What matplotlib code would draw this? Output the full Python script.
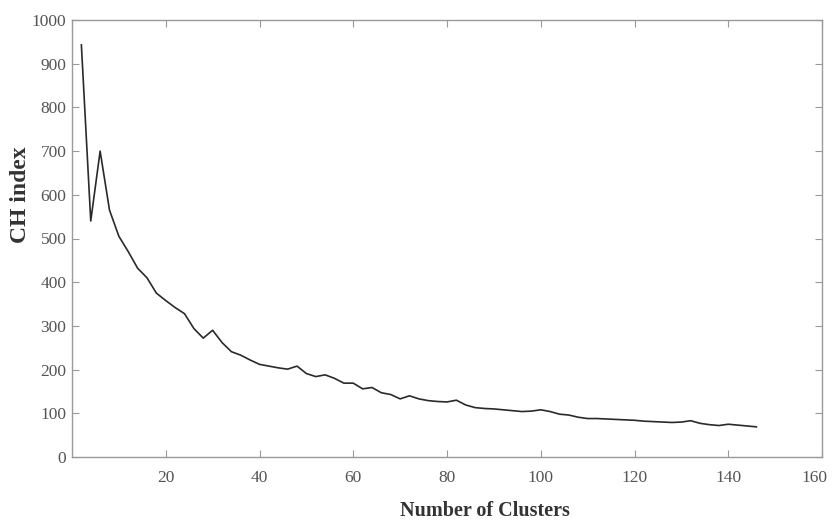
import matplotlib
matplotlib.use("Agg")
import matplotlib.pyplot as plt
import matplotlib.transforms as mtransforms

clusters = list(range(2, 148, 2))
ch_index = [943, 540, 700, 565, 505, 470, 432, 410, 375, 358,
            342, 328, 294, 272, 290, 262, 241, 233, 222, 212,
            208, 204, 201, 208, 191, 184, 188, 180, 169, 169,
            156, 159, 147, 143, 133, 140, 133, 129, 127, 126,
            130, 119, 113, 111, 110, 108, 106, 104, 105, 108,
            104, 98, 96, 91, 88, 88, 87, 86, 85, 84,
            82, 81, 80, 79, 80, 83, 77, 74, 72, 75,
            73, 71, 69]
x_ticks = [20, 40, 60, 80, 100, 120, 140, 160]
y_ticks = [0, 100, 200, 300, 400, 500, 600, 700, 800, 900, 1000]
x_label = "Number of Clusters"
y_label = "CH index"

plt.rcParams['font.family'] = ['Liberation Serif', 'DejaVu Serif']

fig = plt.figure(figsize=(8.32, 5.22), dpi=100)
ax = fig.add_axes([72/832, 65/522, 750/832, 437/522])
ax.plot(clusters, ch_index, color='#2a2a2a', linewidth=1.2)
ax.set_xlim(0, 160)
ax.set_ylim(0, 1000)
ax.set_xticks(x_ticks)
ax.set_yticks(y_ticks)
for s in ax.spines.values():
    s.set_color('#999999')
    s.set_linewidth(1.0)
ax.tick_params(direction='in', length=5, width=0.8, color='#999999',
               labelcolor='#555555', labelsize=12.5, top=True, right=True)
ax.tick_params(axis='x', pad=9)
ax.tick_params(axis='y', pad=4)
ax.set_xlabel(x_label, fontsize=14.5, fontweight='bold', color='#333333')
ax.set_ylabel(y_label, fontsize=17, fontweight='bold', color='#333333')
ax.xaxis.set_label_coords(0.55, -0.1)
ax.yaxis.set_label_coords(-0.054, 0.6)

last = ax.get_xticklabels()[-1]
last.set_transform(last.get_transform() +
                   mtransforms.ScaledTranslation(-8/100, 0, fig.dpi_scale_trans))
fig.savefig("out.png", dpi=100)
